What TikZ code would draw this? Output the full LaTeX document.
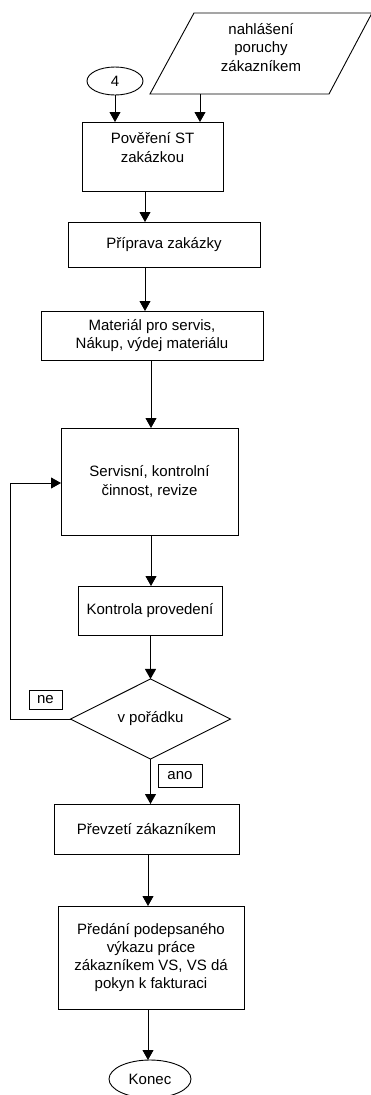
\documentclass[tikz,border=0pt]{standalone}
\usepackage{fontspec}
\setmainfont{Liberation Sans}
\usetikzlibrary{arrows.meta,shapes.geometric}
\begin{document}
\begin{tikzpicture}[x=1pt,y=-1pt,
  every node/.style={font=\fontsize{15}{18.3}\selectfont, inner sep=0pt, outer sep=0pt},
  box/.style={draw, line width=0.9pt, align=center, rectangle},
  term/.style={draw, line width=0.9pt, ellipse},
  decis/.style={draw, line width=0.9pt, diamond},
  tag/.style={draw, line width=0.9pt, rectangle},
  arr/.style={line width=0.9pt, -{Triangle[length=10pt,width=11pt]}},
  ln/.style={line width=0.9pt}]
\useasboundingbox (0,0) rectangle (371,1095);

% input parallelogram
\draw[ln] (194,13) -- (372,13) -- (329,94) -- (150,94) -- cycle;
\node[align=center] (inp) at (261,47.5) {nahlášení\\poruchy\\zákazníkem};
\coordinate (inpb) at (200,94);

\node[term, minimum width=56, minimum height=28] (c4) at (115,81) {4};

\node[box, minimum width=141, minimum height=69] (b1) at (152.5,156.5) {Pověření ST\\zakázkou\\~};
\node[box, minimum width=192, minimum height=45] (b2) at (164,244.5) {Příprava zakázky};
\node[box, minimum width=222, minimum height=49] (b3) at (152,335.5) {Materiál pro servis,\\Nákup, výdej materiálu};
\node[box, minimum width=177, minimum height=107] (b4) at (149.5,481.5) {Servisní, kontrolní\\činnost, revize};
\node[box, minimum width=144, minimum height=49] (b5) at (150,610.5) {Kontrola provedení};
\node[decis, minimum width=160, minimum height=74] (d1) at (150.5,719) {v pořádku};
\node[tag, minimum width=33, minimum height=19] (ne) at (45.5,699.5) {ne};
\node[tag, minimum width=44, minimum height=23] (ano) at (180,775.5) {ano};
\node[box, minimum width=185, minimum height=50] (b6) at (146.5,829) {Převzetí zákazníkem};
\node[box, minimum width=186, minimum height=103] (b7) at (151,957.5) {Předání podepsaného\\výkazu práce\\zákazníkem VS, VS dá\\pokyn k fakturaci};
\node[term, minimum width=82, minimum height=38] (end) at (150,1079) {Konec};

% connectors
\draw[arr] (c4.south) -- (b1.north -| c4.south);
\draw[arr] (inpb) -- (b1.north -| inpb);
\draw[arr] (b1.south -| 145,0) -- (b2.north -| 145,0);
\draw[arr] (b2.south -| 145,0) -- (b3.north -| 145,0);
\draw[arr] (b3.south -| 151,0) -- (b4.north -| 151,0);
\draw[arr] (b4.south -| 151,0) -- (b5.north -| 151,0);
\draw[arr] (b5.south -| d1.north) -- (d1.north);
\draw[arr] (d1.south) -- (b6.north -| d1.south);
\draw[arr] (b6.south -| 148,0) -- (b7.north -| 148,0);
\draw[arr] (b7.south -| 148,0) -- (end.north -| 148,0);
\draw[arr] (d1.west) -- (10.5,719) -- (10.5,483) -- (b4.west |- 0,483);
\end{tikzpicture}
\end{document}
